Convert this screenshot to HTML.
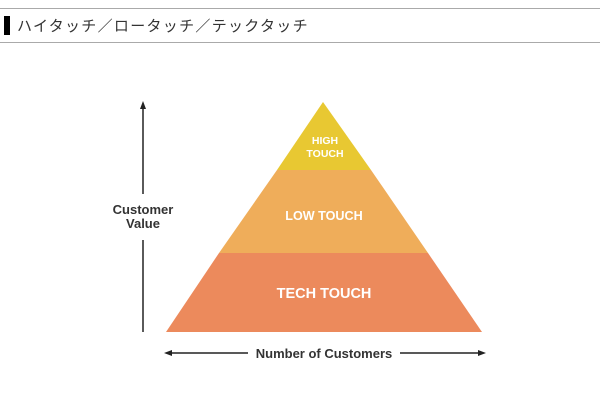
<!DOCTYPE html>
<html><head><meta charset="utf-8"><style>
body{margin:0;width:600px;height:415px;background:#fff;overflow:hidden;position:relative;font-family:"Liberation Sans","Noto Sans CJK JP",sans-serif}
.l{position:absolute;left:0;width:600px;height:1px;background:#aaa}
</style></head><body>
<div class="l" style="top:8px"></div>
<div class="l" style="top:42px"></div>
<div style="position:absolute;left:4px;top:16px;width:6px;height:19px;background:#000"></div>
<div style="position:absolute;left:17px;top:15px;font-size:15px;color:#333;letter-spacing:1.3px;white-space:nowrap">ハイタッチ／ロータッチ／テックタッチ</div>
<svg width="600" height="415" style="position:absolute;left:0;top:0" font-family="Liberation Sans, sans-serif" font-weight="bold">
<polygon points="323,102 277,170 371,170" fill="#e8c832"/>
<polygon points="277,170 371,170 428,253 219,253" fill="#efad5a"/>
<polygon points="219,253 428,253 482,332 166,332" fill="#ec8a5c"/>
<g fill="#fff" text-anchor="middle">
<text x="325" y="144" font-size="10.5">HIGH</text>
<text x="325" y="157" font-size="10.5">TOUCH</text>
<text x="324" y="220" font-size="12.6">LOW TOUCH</text>
<text x="324" y="298" font-size="14.5">TECH TOUCH</text>
</g>
<g stroke="#222" stroke-width="1.5" fill="none">
<line x1="143" y1="106" x2="143" y2="194"/>
<line x1="143" y1="240" x2="143" y2="332"/>
<line x1="168" y1="353" x2="248" y2="353"/>
<line x1="400" y1="353" x2="482" y2="353"/>
</g>
<g fill="#222">
<polygon points="143,101 140,109 146,109"/>
<polygon points="164,353 172,350 172,356"/>
<polygon points="486,353 478,350 478,356"/>
</g>
<g fill="#333" text-anchor="middle" font-size="13">
<text x="143" y="214">Customer</text>
<text x="143" y="228">Value</text>
<text x="324" y="358">Number of Customers</text>
</g>
</svg>
</body></html>
